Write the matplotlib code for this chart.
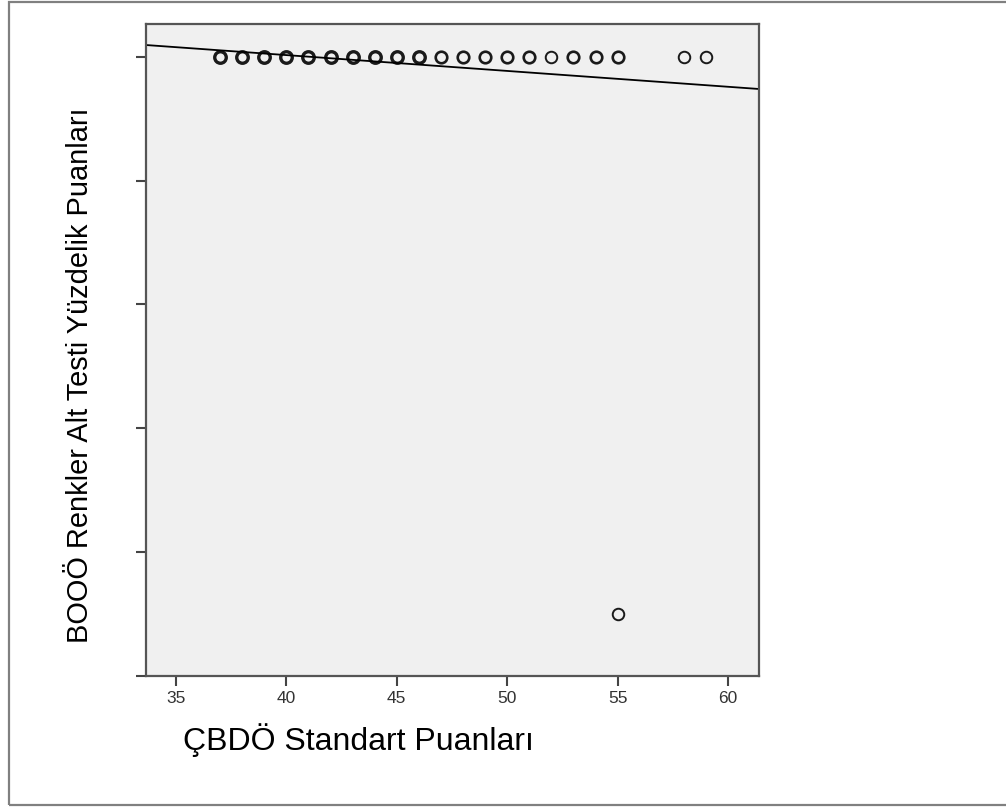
import matplotlib
matplotlib.use("Agg")
import matplotlib.pyplot as plt
from matplotlib.patches import Rectangle

plt.rcParams['font.family'] = ['Liberation Sans', 'DejaVu Sans']

# scatter data: standard scores vs percentile scores
cbdo_x = [37, 38, 39, 40, 41, 42, 43, 44, 45, 46, 47, 48, 49, 50, 51, 52, 53, 54, 55, 58, 59, 55]
booo_y = [100, 100, 100, 100, 100, 100, 100, 100, 100, 100, 100, 100, 100, 100, 100, 100, 100, 100, 100, 100, 100, 10]
# overlapping cases at each point (drawn as heavier rings)
counts = [3, 3, 3, 3, 3, 3, 3, 3, 3, 3, 2, 2, 2, 2, 2, 1, 2, 2, 2, 1, 1, 1]

# fit line (value at x-axis ends)
fit_x = [33.64, 61.4]
fit_y = [101.9, 94.8]

x_ticks = [35, 40, 45, 50, 55, 60]
y_ticks = [0, 20, 40, 60, 80, 100]

fig = plt.figure(figsize=(10.06, 8.07), dpi=100)
ax = fig.add_axes([0.1451, 0.1623, 0.6093, 0.808])
ax.set_facecolor('#f0f0f0')

for x, y, c in zip(cbdo_x, booo_y, counts):
    ax.plot(x, y, 'o', ms=8.3, mfc='none', mec='#1a1a1a', mew=0.9 + 0.5 * c)

ax.plot(fit_x, fit_y, color='black', lw=1.3)

ax.set_xlim(33.64, 61.4)
ax.set_ylim(0, 105.3)
ax.set_xticks(x_ticks)
ax.set_yticks(y_ticks)
ax.set_yticklabels([])
ax.tick_params(direction='out', length=7.5, width=1.5, color='#444444',
               labelsize=12.5, labelcolor='#333333', pad=3)
for s in ax.spines.values():
    s.set_color('#555555')
    s.set_linewidth(1.6)

fig.text(0.356, 0.083, 'ÇBDÖ Standart Puanları', fontsize=23, ha='center', va='center')
fig.text(0.0795, 0.535, 'BOOÖ Renkler Alt Testi Yüzdelik Puanları', fontsize=20.9,
         rotation=90, ha='center', va='center')

fig.add_artist(Rectangle((0.0085, 0.002), 1.2, 0.9955, transform=fig.transFigure,
                         fill=False, edgecolor='#808080', lw=1.6))

fig.savefig('out.png', dpi=100)
